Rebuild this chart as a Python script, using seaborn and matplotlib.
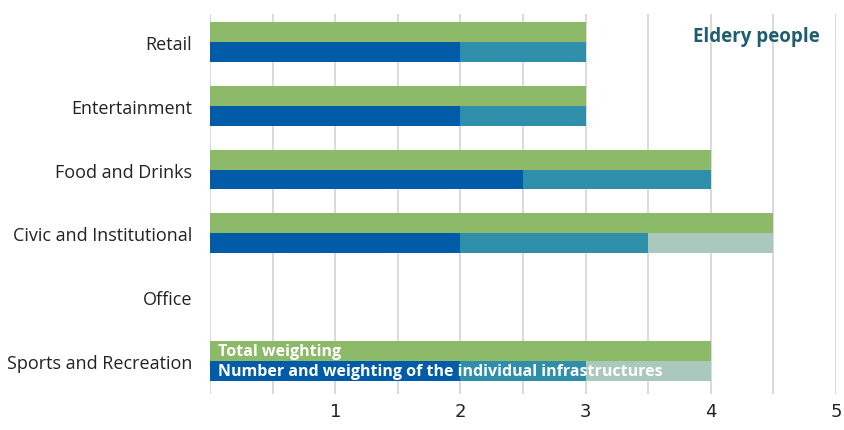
import numpy as np
import pandas as pd
import matplotlib
matplotlib.use("Agg")
import matplotlib.pyplot as plt
import seaborn as sns

# data
categories = ["Retail", "Entertainment", "Food and Drinks",
              "Civic and Institutional", "Office", "Sports and Recreation"]
total_weighting = [3, 3, 4, 4.5, 0, 4]
part_dark = [2, 2, 2.5, 2, 0, 2]
part_teal = [1, 1, 1.5, 1.5, 0, 1]
part_light = [0, 0, 0, 1, 0, 1]
x_ticks = [1, 2, 3, 4, 5]

GREEN = "#8dba69"
DARK = "#005ca9"
TEAL = "#2f8eaa"
LIGHT = "#aac8bc"
TITLE_C = "#1e5d6e"

kinds = ["Total weighting", "Number and weighting of the individual infrastructures"]

sns.set_theme(style="white")
plt.rcParams['font.family'] = ['Open Sans', 'DejaVu Sans']

fig = plt.figure(figsize=(8.45, 4.31), dpi=100)
ax = fig.add_axes([210 / 845, 1 - 395 / 431, 626 / 845, 380 / 431])

cum1 = np.array(part_dark)
cum2 = cum1 + np.array(part_teal)
cum3 = cum2 + np.array(part_light)

# draw stacked layers as overlapping cumulative bars (largest first)
for cum, col in [(cum3, LIGHT), (cum2, TEAL), (cum1, DARK)]:
    df = pd.DataFrame({
        "category": categories * 2,
        "kind": [kinds[0]] * len(categories) + [kinds[1]] * len(categories),
        "value": list(total_weighting) + list(cum),
    })
    sns.barplot(data=df, y="category", x="value", hue="kind", hue_order=kinds,
                order=categories, orient="h", palette=[GREEN, col],
                width=0.625, dodge=True, saturation=1, legend=False, ax=ax,
                linewidth=0, errorbar=None)

ax.set_xlim(0, 5)
ax.set_ylim(5.52, -0.44)
ax.set_xticks(np.arange(0, 5.01, 0.5), minor=True)
ax.set_xticks(x_ticks)
ax.set_xticklabels([str(t) for t in x_ticks], fontsize=13, color="#222222",
                   family=["Liberation Sans Narrow", "DejaVu Sans"])
ax.grid(axis="x", which="both", color="#d4d4d4", linewidth=1.2)
ax.set_axisbelow(True)
ax.tick_params(axis="x", which="both", length=0, pad=6)
ax.tick_params(axis="y", length=0, pad=13, labelsize=13, labelcolor="#222222")
ax.set_xlabel("")
ax.set_ylabel("")
for s in ax.spines.values():
    s.set_visible(False)

# in-bar legend labels
last = len(categories) - 1
ax.text(0.06, last - 0.156, kinds[0], color="white", fontsize=11.5,
        fontweight="bold", va="center", ha="left")
ax.text(0.06, last + 0.156, kinds[1], color="white", fontsize=11.5,
        fontweight="bold", va="center", ha="left")

ax.text(4.87, -0.1, "Eldery people", color=TITLE_C, fontsize=13.5,
        fontweight="bold", va="center", ha="right")

fig.savefig("out.png", dpi=100)
